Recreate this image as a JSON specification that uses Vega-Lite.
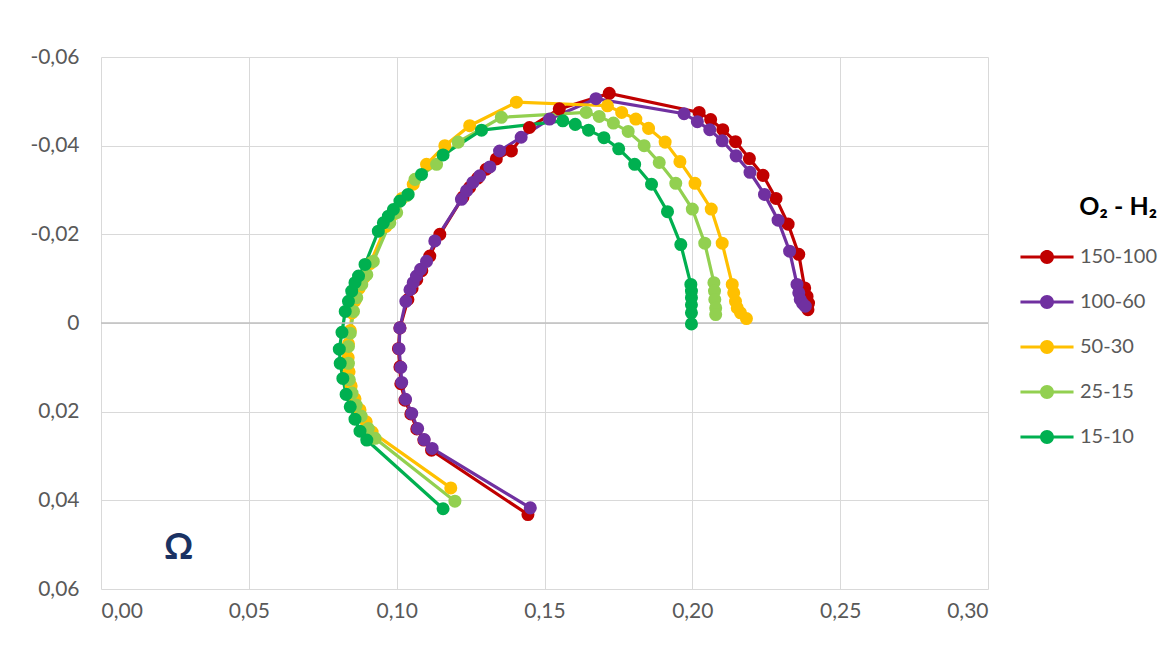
{
  "$schema": "https://vega.github.io/schema/vega-lite/v6.json",
  "width": 887,
  "height": 532,
  "autosize": {"type": "none"},
  "padding": {"left": 101, "top": 57, "right": 184, "bottom": 62},
  "background": "white",
  "config": {
    "font": "Lato",
    "view": {"stroke": null},
    "axis": {"grid": true, "gridColor": "#D9D9D9", "gridWidth": 1, "labelColor": "#595959", "ticks": false, "domain": false, "title": null}
  },
  "datasets": {
    "imp": [
      {"s": "150-100", "i": 1, "x": 0.1444, "y": 0.0432},
      {"s": "150-100", "i": 2, "x": 0.1118, "y": 0.0287},
      {"s": "150-100", "i": 3, "x": 0.1092, "y": 0.0264},
      {"s": "150-100", "i": 4, "x": 0.1068, "y": 0.0239},
      {"s": "150-100", "i": 5, "x": 0.1048, "y": 0.0205},
      {"s": "150-100", "i": 6, "x": 0.1028, "y": 0.0174},
      {"s": "150-100", "i": 7, "x": 0.1014, "y": 0.0137},
      {"s": "150-100", "i": 8, "x": 0.1011, "y": 0.0099},
      {"s": "150-100", "i": 9, "x": 0.1006, "y": 0.0058},
      {"s": "150-100", "i": 10, "x": 0.1011, "y": 0.0011},
      {"s": "150-100", "i": 11, "x": 0.1038, "y": -0.0053},
      {"s": "150-100", "i": 12, "x": 0.1052, "y": -0.0078},
      {"s": "150-100", "i": 13, "x": 0.1068, "y": -0.0098},
      {"s": "150-100", "i": 14, "x": 0.1085, "y": -0.0118},
      {"s": "150-100", "i": 15, "x": 0.1112, "y": -0.0151},
      {"s": "150-100", "i": 16, "x": 0.1146, "y": -0.0200},
      {"s": "150-100", "i": 17, "x": 0.1224, "y": -0.0284},
      {"s": "150-100", "i": 18, "x": 0.1247, "y": -0.0306},
      {"s": "150-100", "i": 19, "x": 0.1274, "y": -0.0327},
      {"s": "150-100", "i": 20, "x": 0.1303, "y": -0.0347},
      {"s": "150-100", "i": 21, "x": 0.1337, "y": -0.0370},
      {"s": "150-100", "i": 22, "x": 0.1388, "y": -0.0388},
      {"s": "150-100", "i": 23, "x": 0.1449, "y": -0.0441},
      {"s": "150-100", "i": 24, "x": 0.1550, "y": -0.0483},
      {"s": "150-100", "i": 25, "x": 0.1719, "y": -0.0518},
      {"s": "150-100", "i": 26, "x": 0.2023, "y": -0.0475},
      {"s": "150-100", "i": 27, "x": 0.2062, "y": -0.0459},
      {"s": "150-100", "i": 28, "x": 0.2103, "y": -0.0436},
      {"s": "150-100", "i": 29, "x": 0.2146, "y": -0.0409},
      {"s": "150-100", "i": 30, "x": 0.2193, "y": -0.0371},
      {"s": "150-100", "i": 31, "x": 0.2239, "y": -0.0333},
      {"s": "150-100", "i": 32, "x": 0.2283, "y": -0.0281},
      {"s": "150-100", "i": 33, "x": 0.2324, "y": -0.0223},
      {"s": "150-100", "i": 34, "x": 0.2360, "y": -0.0155},
      {"s": "150-100", "i": 35, "x": 0.2380, "y": -0.0079},
      {"s": "150-100", "i": 36, "x": 0.2388, "y": -0.0060},
      {"s": "150-100", "i": 37, "x": 0.2393, "y": -0.0045},
      {"s": "150-100", "i": 38, "x": 0.2391, "y": -0.0030},
      {"s": "100-60", "i": 1, "x": 0.1452, "y": 0.0417},
      {"s": "100-60", "i": 2, "x": 0.1120, "y": 0.0283},
      {"s": "100-60", "i": 3, "x": 0.1093, "y": 0.0263},
      {"s": "100-60", "i": 4, "x": 0.1071, "y": 0.0238},
      {"s": "100-60", "i": 5, "x": 0.1051, "y": 0.0204},
      {"s": "100-60", "i": 6, "x": 0.1030, "y": 0.0172},
      {"s": "100-60", "i": 7, "x": 0.1017, "y": 0.0134},
      {"s": "100-60", "i": 8, "x": 0.1014, "y": 0.0100},
      {"s": "100-60", "i": 9, "x": 0.1008, "y": 0.0058},
      {"s": "100-60", "i": 10, "x": 0.1011, "y": 0.0011},
      {"s": "100-60", "i": 11, "x": 0.1031, "y": -0.0049},
      {"s": "100-60", "i": 12, "x": 0.1045, "y": -0.0075},
      {"s": "100-60", "i": 13, "x": 0.1056, "y": -0.0091},
      {"s": "100-60", "i": 14, "x": 0.1067, "y": -0.0106},
      {"s": "100-60", "i": 15, "x": 0.1081, "y": -0.0121},
      {"s": "100-60", "i": 16, "x": 0.1101, "y": -0.0139},
      {"s": "100-60", "i": 17, "x": 0.1129, "y": -0.0185},
      {"s": "100-60", "i": 18, "x": 0.1219, "y": -0.0279},
      {"s": "100-60", "i": 19, "x": 0.1236, "y": -0.0298},
      {"s": "100-60", "i": 20, "x": 0.1258, "y": -0.0317},
      {"s": "100-60", "i": 21, "x": 0.1281, "y": -0.0332},
      {"s": "100-60", "i": 22, "x": 0.1315, "y": -0.0352},
      {"s": "100-60", "i": 23, "x": 0.1348, "y": -0.0388},
      {"s": "100-60", "i": 24, "x": 0.1421, "y": -0.0419},
      {"s": "100-60", "i": 25, "x": 0.1517, "y": -0.0460},
      {"s": "100-60", "i": 26, "x": 0.1674, "y": -0.0506},
      {"s": "100-60", "i": 27, "x": 0.1972, "y": -0.0472},
      {"s": "100-60", "i": 28, "x": 0.2017, "y": -0.0454},
      {"s": "100-60", "i": 29, "x": 0.2059, "y": -0.0436},
      {"s": "100-60", "i": 30, "x": 0.2101, "y": -0.0411},
      {"s": "100-60", "i": 31, "x": 0.2148, "y": -0.0377},
      {"s": "100-60", "i": 32, "x": 0.2195, "y": -0.0340},
      {"s": "100-60", "i": 33, "x": 0.2244, "y": -0.0290},
      {"s": "100-60", "i": 34, "x": 0.2290, "y": -0.0232},
      {"s": "100-60", "i": 35, "x": 0.2329, "y": -0.0162},
      {"s": "100-60", "i": 36, "x": 0.2354, "y": -0.0087},
      {"s": "100-60", "i": 37, "x": 0.2360, "y": -0.0068},
      {"s": "100-60", "i": 38, "x": 0.2365, "y": -0.0053},
      {"s": "100-60", "i": 39, "x": 0.2373, "y": -0.0044},
      {"s": "100-60", "i": 40, "x": 0.2382, "y": -0.0038},
      {"s": "50-30", "i": 1, "x": 0.1183, "y": 0.0372},
      {"s": "50-30", "i": 2, "x": 0.0917, "y": 0.0246},
      {"s": "50-30", "i": 3, "x": 0.0897, "y": 0.0223},
      {"s": "50-30", "i": 4, "x": 0.0876, "y": 0.0196},
      {"s": "50-30", "i": 5, "x": 0.0859, "y": 0.0171},
      {"s": "50-30", "i": 6, "x": 0.0846, "y": 0.0142},
      {"s": "50-30", "i": 7, "x": 0.0839, "y": 0.0110},
      {"s": "50-30", "i": 8, "x": 0.0836, "y": 0.0078},
      {"s": "50-30", "i": 9, "x": 0.0837, "y": 0.0047},
      {"s": "50-30", "i": 10, "x": 0.0843, "y": 0.0017},
      {"s": "50-30", "i": 11, "x": 0.0849, "y": -0.0023},
      {"s": "50-30", "i": 12, "x": 0.0859, "y": -0.0050},
      {"s": "50-30", "i": 13, "x": 0.0873, "y": -0.0078},
      {"s": "50-30", "i": 14, "x": 0.0890, "y": -0.0103},
      {"s": "50-30", "i": 15, "x": 0.0910, "y": -0.0134},
      {"s": "50-30", "i": 16, "x": 0.0964, "y": -0.0218},
      {"s": "50-30", "i": 17, "x": 0.0984, "y": -0.0243},
      {"s": "50-30", "i": 18, "x": 0.1018, "y": -0.0281},
      {"s": "50-30", "i": 19, "x": 0.1056, "y": -0.0313},
      {"s": "50-30", "i": 20, "x": 0.1101, "y": -0.0358},
      {"s": "50-30", "i": 21, "x": 0.1163, "y": -0.0400},
      {"s": "50-30", "i": 22, "x": 0.1247, "y": -0.0445},
      {"s": "50-30", "i": 23, "x": 0.1405, "y": -0.0498},
      {"s": "50-30", "i": 24, "x": 0.1713, "y": -0.0490},
      {"s": "50-30", "i": 25, "x": 0.1761, "y": -0.0475},
      {"s": "50-30", "i": 26, "x": 0.1809, "y": -0.0460},
      {"s": "50-30", "i": 27, "x": 0.1852, "y": -0.0439},
      {"s": "50-30", "i": 28, "x": 0.1908, "y": -0.0408},
      {"s": "50-30", "i": 29, "x": 0.1958, "y": -0.0364},
      {"s": "50-30", "i": 30, "x": 0.2009, "y": -0.0315},
      {"s": "50-30", "i": 31, "x": 0.2064, "y": -0.0257},
      {"s": "50-30", "i": 32, "x": 0.2101, "y": -0.0180},
      {"s": "50-30", "i": 33, "x": 0.2135, "y": -0.0087},
      {"s": "50-30", "i": 34, "x": 0.2140, "y": -0.0068},
      {"s": "50-30", "i": 35, "x": 0.2146, "y": -0.0049},
      {"s": "50-30", "i": 36, "x": 0.2152, "y": -0.0034},
      {"s": "50-30", "i": 37, "x": 0.2163, "y": -0.0023},
      {"s": "50-30", "i": 38, "x": 0.2183, "y": -0.0010},
      {"s": "25-15", "i": 1, "x": 0.1197, "y": 0.0402},
      {"s": "25-15", "i": 2, "x": 0.0927, "y": 0.0260},
      {"s": "25-15", "i": 3, "x": 0.0904, "y": 0.0238},
      {"s": "25-15", "i": 4, "x": 0.0880, "y": 0.0210},
      {"s": "25-15", "i": 5, "x": 0.0863, "y": 0.0185},
      {"s": "25-15", "i": 6, "x": 0.0849, "y": 0.0158},
      {"s": "25-15", "i": 7, "x": 0.0840, "y": 0.0128},
      {"s": "25-15", "i": 8, "x": 0.0837, "y": 0.0091},
      {"s": "25-15", "i": 9, "x": 0.0837, "y": 0.0053},
      {"s": "25-15", "i": 10, "x": 0.0843, "y": 0.0023},
      {"s": "25-15", "i": 11, "x": 0.0854, "y": -0.0026},
      {"s": "25-15", "i": 12, "x": 0.0865, "y": -0.0057},
      {"s": "25-15", "i": 13, "x": 0.0882, "y": -0.0087},
      {"s": "25-15", "i": 14, "x": 0.0899, "y": -0.0109},
      {"s": "25-15", "i": 15, "x": 0.0921, "y": -0.0139},
      {"s": "25-15", "i": 16, "x": 0.0977, "y": -0.0226},
      {"s": "25-15", "i": 17, "x": 0.1000, "y": -0.0249},
      {"s": "25-15", "i": 18, "x": 0.1034, "y": -0.0287},
      {"s": "25-15", "i": 19, "x": 0.1062, "y": -0.0324},
      {"s": "25-15", "i": 20, "x": 0.1135, "y": -0.0358},
      {"s": "25-15", "i": 21, "x": 0.1208, "y": -0.0408},
      {"s": "25-15", "i": 22, "x": 0.1354, "y": -0.0464},
      {"s": "25-15", "i": 23, "x": 0.1641, "y": -0.0475},
      {"s": "25-15", "i": 24, "x": 0.1685, "y": -0.0466},
      {"s": "25-15", "i": 25, "x": 0.1733, "y": -0.0451},
      {"s": "25-15", "i": 26, "x": 0.1783, "y": -0.0432},
      {"s": "25-15", "i": 27, "x": 0.1837, "y": -0.0400},
      {"s": "25-15", "i": 28, "x": 0.1888, "y": -0.0362},
      {"s": "25-15", "i": 29, "x": 0.1944, "y": -0.0315},
      {"s": "25-15", "i": 30, "x": 0.2000, "y": -0.0257},
      {"s": "25-15", "i": 31, "x": 0.2042, "y": -0.0180},
      {"s": "25-15", "i": 32, "x": 0.2073, "y": -0.0091},
      {"s": "25-15", "i": 33, "x": 0.2075, "y": -0.0072},
      {"s": "25-15", "i": 34, "x": 0.2076, "y": -0.0053},
      {"s": "25-15", "i": 35, "x": 0.2079, "y": -0.0034},
      {"s": "25-15", "i": 36, "x": 0.2079, "y": -0.0019},
      {"s": "15-10", "i": 1, "x": 0.1157, "y": 0.0419},
      {"s": "15-10", "i": 2, "x": 0.0899, "y": 0.0264},
      {"s": "15-10", "i": 3, "x": 0.0876, "y": 0.0244},
      {"s": "15-10", "i": 4, "x": 0.0859, "y": 0.0217},
      {"s": "15-10", "i": 5, "x": 0.0843, "y": 0.0189},
      {"s": "15-10", "i": 6, "x": 0.0829, "y": 0.0161},
      {"s": "15-10", "i": 7, "x": 0.0818, "y": 0.0125},
      {"s": "15-10", "i": 8, "x": 0.0809, "y": 0.0091},
      {"s": "15-10", "i": 9, "x": 0.0806, "y": 0.0059},
      {"s": "15-10", "i": 10, "x": 0.0815, "y": 0.0021},
      {"s": "15-10", "i": 11, "x": 0.0826, "y": -0.0026},
      {"s": "15-10", "i": 12, "x": 0.0837, "y": -0.0049},
      {"s": "15-10", "i": 13, "x": 0.0848, "y": -0.0072},
      {"s": "15-10", "i": 14, "x": 0.0859, "y": -0.0091},
      {"s": "15-10", "i": 15, "x": 0.0871, "y": -0.0106},
      {"s": "15-10", "i": 16, "x": 0.0893, "y": -0.0132},
      {"s": "15-10", "i": 17, "x": 0.0938, "y": -0.0207},
      {"s": "15-10", "i": 18, "x": 0.0955, "y": -0.0226},
      {"s": "15-10", "i": 19, "x": 0.0972, "y": -0.0241},
      {"s": "15-10", "i": 20, "x": 0.0989, "y": -0.0256},
      {"s": "15-10", "i": 21, "x": 0.1011, "y": -0.0275},
      {"s": "15-10", "i": 22, "x": 0.1039, "y": -0.0290},
      {"s": "15-10", "i": 23, "x": 0.1084, "y": -0.0335},
      {"s": "15-10", "i": 24, "x": 0.1157, "y": -0.0379},
      {"s": "15-10", "i": 25, "x": 0.1287, "y": -0.0435},
      {"s": "15-10", "i": 26, "x": 0.1562, "y": -0.0456},
      {"s": "15-10", "i": 27, "x": 0.1604, "y": -0.0448},
      {"s": "15-10", "i": 28, "x": 0.1649, "y": -0.0435},
      {"s": "15-10", "i": 29, "x": 0.1701, "y": -0.0418},
      {"s": "15-10", "i": 30, "x": 0.1751, "y": -0.0393},
      {"s": "15-10", "i": 31, "x": 0.1805, "y": -0.0358},
      {"s": "15-10", "i": 32, "x": 0.1862, "y": -0.0313},
      {"s": "15-10", "i": 33, "x": 0.1916, "y": -0.0251},
      {"s": "15-10", "i": 34, "x": 0.1961, "y": -0.0177},
      {"s": "15-10", "i": 35, "x": 0.1995, "y": -0.0087},
      {"s": "15-10", "i": 36, "x": 0.1997, "y": -0.0072},
      {"s": "15-10", "i": 37, "x": 0.1997, "y": -0.0057},
      {"s": "15-10", "i": 38, "x": 0.1997, "y": -0.0041},
      {"s": "15-10", "i": 39, "x": 0.1997, "y": -0.0023},
      {"s": "15-10", "i": 40, "x": 0.1997, "y": 0.0002}
    ]
  },
  "layer": [
    {
      "data": {"name": "imp"},
      "mark": {"type": "line", "strokeWidth": 3.2},
      "encoding": {
        "x": {"field": "x", "type": "quantitative", "scale": {"domain": [0, 0.3]},
              "axis": {"grid": true, "values": [0, 0.05, 0.1, 0.15, 0.2, 0.25, 0.3], "labelPadding": 11, "labelFontSize": 21, "labelExpr": "replace(format(datum.value, '.2f'), '.', ',')"}},
        "y": {"field": "y", "type": "quantitative", "scale": {"domain": [-0.06, 0.06], "reverse": true},
              "axis": {"grid": true, "values": [-0.06, -0.04, -0.02, 0, 0.02, 0.04, 0.06], "labelPadding": 22, "labelFontSize": 21, "labelExpr": "datum.value == 0 ? '0' : replace(replace(format(datum.value, '.2f'), '.', ','), '\u2212', '-')"}},
        "color": {"field": "s", "type": "nominal",
                  "scale": {"domain": ["150-100", "100-60", "50-30", "25-15", "15-10"], "range": ["#C00000", "#7030A0", "#FFC000", "#92D050", "#00B050"]},
                  "legend": {"orient": "none", "legendX": 929, "legendY": 138, "padding": 0, "title": "O\u2082 - H\u2082", "titleFontSize": 25, "titleFontWeight": "bold", "titleColor": "#000000", "titleAnchor": "end", "titlePadding": 20, "labelFontSize": 20, "labelColor": "#595959", "labelOffset": 16, "rowPadding": 18,
                             "symbolType": "M-1.6,-0.09L1.6,-0.09L1.6,0.09L-1.6,0.09Z M-0.42,0A0.42,0.42 0 1,1 0.42,0A0.42,0.42 0 1,1 -0.42,0Z", "symbolSize": 1100, "symbolStrokeWidth": 0,
                             "encode": {"symbols": {"update": {"fill": {"scale": "color", "field": "value"}, "stroke": {"value": "transparent"}, "opacity": {"value": 1}}}}}
        },
        "order": {"field": "i", "type": "quantitative"}
      }
    },
    {
      "data": {"values": [{"z": 0}]},
      "mark": {"type": "rule", "color": "#BFBFBF", "strokeWidth": 1.5},
      "encoding": {"y": {"field": "z", "type": "quantitative"}}
    },
    {
      "data": {"name": "imp"},
      "mark": {"type": "point", "filled": true, "size": 170, "opacity": 1},
      "encoding": {
        "x": {"field": "x", "type": "quantitative"},
        "y": {"field": "y", "type": "quantitative"},
        "color": {"field": "s", "type": "nominal", "legend": null}
      }
    },
    {
      "data": {"values": [{"t": "\u03a9", "tx": 0.0263, "ty": 0.0507}]},
      "mark": {"type": "text", "fontSize": 36, "fontWeight": "bold", "color": "#1A3263", "font": "Lato"},
      "encoding": {"x": {"field": "tx", "type": "quantitative"}, "y": {"field": "ty", "type": "quantitative"}, "text": {"field": "t"}}
    }
  ]
}
